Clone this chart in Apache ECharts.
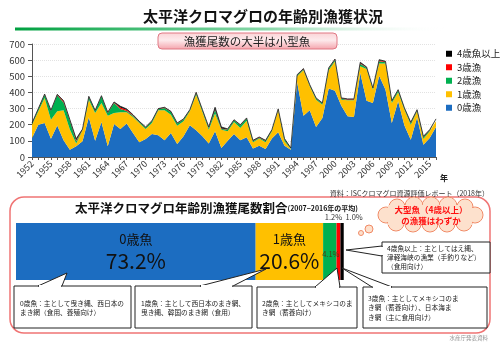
<!DOCTYPE html>
<html><head><meta charset="utf-8">
<script src="https://cdn.jsdelivr.net/npm/echarts@6/dist/echarts.min.js"></script>
<style>html,body{margin:0;padding:0;background:#fff}#c{width:500px;height:345px}</style>
</head><body><div id="c"></div>
<script>
const years = ['1952','1953','1954','1955','1956','1957','1958','1959','1960','1961','1962','1963','1964','1965','1966','1967','1968','1969','1970','1971','1972','1973','1974','1975','1976','1977','1978','1979','1980','1981','1982','1983','1984','1985','1986','1987','1988','1989','1990','1991','1992','1993','1994','1995','1996','1997','1998','1999','2000','2001','2002','2003','2004','2005','2006','2007','2008','2009','2010','2011','2012','2013','2014','2015','2016'];
const age0 = [118,200,210,113,195,103,45,66,97,246, 101,217,66,205,174,207,149,91,112,143, 134,103,149,81,128,196,165,128,83,159, 56,101,143,103,122,52,70,50,114,153, 70,45,463,256,289,186,242,424,411,318, 252,248,521,349,335,504,417,211,345,195, 107,245,76,118,186];
const age1 = [82,83,155,118,88,186,125,17,68,109, 172,118,190,68,103,70,99,120,62,68, 155,186,113,113,93,87,221,151,86,110, 113,58,74,77,103,39,44,41,45,136, 27,5,37,281,149,169,82,113,182,37, 99,103,41,196,82,75,162,124,56,98, 93,38,36,41,35];
const age2 = [6,13,21,55,100,48,55,15,4,17, 12,41,17,62,20,8,8,6,8,10, 7,15,17,13,11,6,11,10,11,23, 5,11,10,16,13,8,6,8,6,5, 13,2,6,7,6,7,7,11,10,6, 4,4,15,8,7,14,8,10,12,7, 11,6,10,6,11];
const age3 = [2,2,2,2,3,8,3,5,2,2, 2,2,2,3,10,8,3,2,2,2, 2,2,2,2,2,2,2,2,2,4, 3,2,2,2,2,2,2,2,2,2, 2,2,2,2,2,2,2,2,2,2, 2,2,5,2,2,6,3,2,2,2, 2,2,4,2,2];
const age4 = [2,2,2,2,2,4,3,10,2,2, 2,2,2,3,7,5,3,2,2,2, 2,2,2,2,2,2,2,2,4,12, 9,2,2,2,2,2,2,2,2,2, 2,2,2,2,2,2,2,2,2,3, 3,3,5,3,2,4,3,2,2,2, 2,2,2,2,2];
const seriesNames = ['0歳漁','1歳漁','2歳漁','3歳漁','4歳魚以上'];
const legendOrder = ['4歳魚以上','3歳漁','2歳漁','1歳漁','0歳漁'];
const yTicks = [0,100,200,300,400,500,600,700];
const shareNames = ['0歳魚','1歳魚','2歳魚','3歳魚','4歳魚以上'];
const shareValues = [73.2, 20.6, 4.1, 1.2, 1.0];

const FONT = '"Noto Sans CJK JP", "Noto Sans", sans-serif';
const colors = ['#1C6DC1','#FFC000','#00B050','#FF0000','#000000'];
const ageData = [age0, age1, age2, age3, age4];

const chart = echarts.init(document.getElementById('c'), null, {renderer:'canvas'});

const areaSeries = ageData.map((d, i) => ({
  name: seriesNames[i], type: 'line', stack: 'total', xAxisIndex: 0, yAxisIndex: 0,
  data: d, symbol: 'none', smooth: false,
  lineStyle: i === 4 ? {width: 0.8, color: '#222'} : {width: 0},
  areaStyle: {color: colors[i], opacity: 1},
  itemStyle: {color: colors[i]}, z: 2
}));

const labelStyles = [
  {show:true, position:'inside', formatter: p => '{a|' + shareNames[0] + '}\n{b|' + p.value + '%}',
   rich:{a:{fontSize:13, lineHeight:20, color:'#111', fontFamily:FONT}, b:{fontSize:21, lineHeight:24, color:'#111', fontFamily:FONT}}},
  {show:true, position:'inside', formatter: p => '{a|' + shareNames[1] + '}\n{b|' + p.value + '%}',
   rich:{a:{fontSize:13, lineHeight:20, color:'#111', fontFamily:FONT}, b:{fontSize:21, lineHeight:24, color:'#111', fontFamily:FONT}}},
  {show:true, position:'inside', offset:[1,3], formatter: p => p.value + '%', fontSize:7.5, color:'#4a3a10', fontFamily:FONT},
  {show:true, position:'top', distance:2, offset:[-5,0], formatter: p => p.value + '%', fontSize:7.5, color:'#333', fontFamily:FONT},
  {show:true, position:'top', distance:2, offset:[12,0], formatter: p => p.value.toFixed(1) + '%', fontSize:7.5, color:'#333', fontFamily:FONT}
];
const barSeries = shareValues.map((v, i) => ({
  name: 'share_' + shareNames[i], type: 'bar', stack: 'share', xAxisIndex: 1, yAxisIndex: 1,
  data: [v], barWidth: 57, itemStyle: {color: colors[i]}, label: labelStyles[i], z: 2
}));

function callout(box, texts, opts) {
  const els = [];
  els.push({type:'rect', z: 20, shape:{x:box[0], y:box[1], width:box[2], height:box[3]}, style:{fill:'#fff', stroke:'#222', lineWidth:1}});
  els.push({type:'polygon', z: 21, shape:{points: opts.pointer}, style:{fill:'#fff', stroke:'#222', lineWidth:1}});
  els.push({type:'line', z: 22, shape:opts.gap, style:{stroke:'#fff', lineWidth:2}});
  els.push({type:'text', z: 23, x: box[0] + opts.pad, y: opts.ty, style:{text: texts, font: '6.7px ' + FONT, fill:'#222', lineHeight: opts.lh, verticalAlign:'top', align:'left'}});
  return els;
}

const cloudBumps = [[386,215,8],[397,207,8],[414,206,9],[431,206,9],[448,206,9],[465,207,8],[475,215,8],[464,223,8],[447,224,8],[430,224,8],[413,224,8],[396,223,8]];
const cloudEls = [];
cloudBumps.forEach(b => cloudEls.push({type:'circle', z:20, shape:{cx:b[0], cy:b[1], r:b[2]}, style:{fill:'#fde1cd', stroke:'#f08a66', lineWidth:1}}));
cloudBumps.forEach(b => cloudEls.push({type:'circle', z:20, shape:{cx:b[0], cy:b[1], r:b[2]-0.8}, style:{fill:'#fde1cd'}}));
cloudEls.push({type:'rect', z:20, shape:{x:388, y:205, width:84, height:20}, style:{fill:'#fde1cd'}});

const graphics = [
  {type:'text', x:263, y:16, style:{text:'太平洋クロマグロの年齢別漁獲状況', font:'bold 15px ' + FONT, fill:'#111', align:'center', verticalAlign:'middle'}},
  {type:'rect', shape:{x:15, y:27.5, width:430, height:3}, style:{fill: new echarts.graphic.LinearGradient(0,0,1,0,[{offset:0,color:'#00A040'},{offset:0.6,color:'rgba(0,170,70,0.45)'},{offset:1,color:'rgba(255,255,255,0)'}])}},
  {type:'rect', z: 5, shape:{x:158, y:33, width:179, height:16, r:4}, style:{fill: new echarts.graphic.LinearGradient(0,0,0,1,[{offset:0,color:'#fbd3d6'},{offset:0.45,color:'#fdeaec'},{offset:1,color:'#f4a3ab'}]), stroke:'#e07884', lineWidth:1}},
  {type:'text', z: 6, x:247, y:41.5, style:{text:'漁獲尾数の大半は小型魚', font:'11.5px ' + FONT, fill:'#222', align:'center', verticalAlign:'middle'}},
  {type:'text', x:444, y:178, style:{text:'年', font:'bold 8px ' + FONT, fill:'#222', align:'center', verticalAlign:'middle'}},
  {type:'text', z: 25, x:489, y:193, style:{text:'資料：ISCクロマグロ資源評価レポート（2018年）', font:'7px ' + FONT, fill:'#333', align:'right', verticalAlign:'middle'}},
  {type:'rect', z: 0, shape:{x:10, y:197, width:480, height:136, r:14}, style:{fill:'none', stroke:'#f07474', lineWidth:1.5}},
  {type:'text', x:75, y:208, style:{text:'{a|太平洋クロマグロ年齢別漁獲尾数割合}{b|(2007−2016年の平均)}', rich:{a:{font:'bold 12.5px ' + FONT, fill:'#111'}, b:{font:'bold 7px ' + FONT, fill:'#111'}}, align:'left', verticalAlign:'middle'}},
  ...cloudEls,
  {type:'circle', z: 20, shape:{cx:369, cy:229, r:4}, style:{fill:'#fde1cd', stroke:'#f08a66', lineWidth:1}},
  {type:'circle', z: 20, shape:{cx:361, cy:233, r:2.5}, style:{fill:'#fde1cd', stroke:'#f08a66', lineWidth:1}},
  {type:'text', z: 21, x:431, y:210, style:{text:'大型魚（4歳以上）', font:'bold 8.5px ' + FONT, fill:'#ff1010', align:'center', verticalAlign:'middle'}},
  {type:'text', z: 21, x:431, y:221, style:{text:'の漁獲はわずか', font:'bold 8.5px ' + FONT, fill:'#ff1010', align:'center', verticalAlign:'middle'}},
  {type:'text', x:488, y:338, style:{text:'水産庁発表資料', font:'5.5px ' + FONT, fill:'#999', align:'right', verticalAlign:'middle'}},
  ...callout([14,286,117,42], '0歳魚：主として曳き縄、西日本の\nまき網（食用、養殖向け）', {pointer:[[38,286],[67,273],[62,286]], gap:{x1:39,y1:286,x2:61,y2:286}, pad:6, ty:298.5, lh:9.5}),
  ...callout([135,286,117,42], '1歳魚：主として西日本のまき網、\n曳き縄、韓国のまき網（食用）', {pointer:[[200,286],[266,269],[233,286]], gap:{x1:201,y1:286,x2:232,y2:286}, pad:6, ty:298.5, lh:9.5}),
  ...callout([257,287,100,41], '2歳魚：主としてメキシコのま\nき網（蓄養向け）', {pointer:[[315,287],[337,268],[340,287]], gap:{x1:316,y1:287,x2:339,y2:287}, pad:5, ty:298.5, lh:9.5}),
  ...callout([363,287,124,41], '3歳魚：主としてメキシコのま\nき網（蓄養向け）、日本海ま\nき網（主に食用向け）', {pointer:[[372,287],[342,268],[392,287]], gap:{x1:373,y1:287,x2:391,y2:287}, pad:5, ty:293.5, lh:9.5}),
  ...callout([382,242,108,31], '4歳魚以上：主としてはえ縄、\n津軽海峡の漁業（手釣りなど）\n（食用向け）', {pointer:[[382,246],[346,250],[382,256]], gap:{x1:382,y1:247,x2:382,y2:255}, pad:5, ty:244.5, lh:8.6})
];

const option = {
  animation: false,
  textStyle: {fontFamily: FONT},
  legend: {
    data: legendOrder, orient:'vertical', left: 441, top: 44, itemWidth: 6, itemHeight: 6, itemGap: 4,
    icon: 'rect', textStyle: {fontSize: 9.5, color:'#222', fontFamily: FONT}
  },
  grid: [
    {left: 32, top: 44, width: 404, height: 113, containLabel: false},
    {left: 16, top: 223, width: 331, height: 57, containLabel: false}
  ],
  xAxis: [
    {type:'category', gridIndex:0, data: years, boundaryGap:false,
     axisLine:{lineStyle:{color:'#555', width:1}},
     axisTick:{show:true, interval:0, length:3, lineStyle:{color:'#555'}},
     axisLabel:{interval:2, rotate:45, fontSize:9, color:'#333', margin:5, fontFamily:FONT},
     splitLine:{show:false}},
    {type:'value', gridIndex:1, min:0, max:101.1, show:false}
  ],
  yAxis: [
    {type:'value', gridIndex:0, min:yTicks[0], max:yTicks[yTicks.length-1], interval:100,
     axisLine:{show:true, lineStyle:{color:'#555'}},
     axisTick:{show:true, length:4, lineStyle:{color:'#555'}},
     axisLabel:{fontSize:9.5, color:'#333', margin:7, fontFamily:FONT},
     splitLine:{show:true, lineStyle:{color:'#e2e2e2', type:'dotted'}}},
    {type:'category', gridIndex:1, data:['割合'], show:false}
  ],
  series: [...areaSeries, ...barSeries],
  graphic: {elements: graphics}
};
chart.setOption(option);
</script>
</body></html>
